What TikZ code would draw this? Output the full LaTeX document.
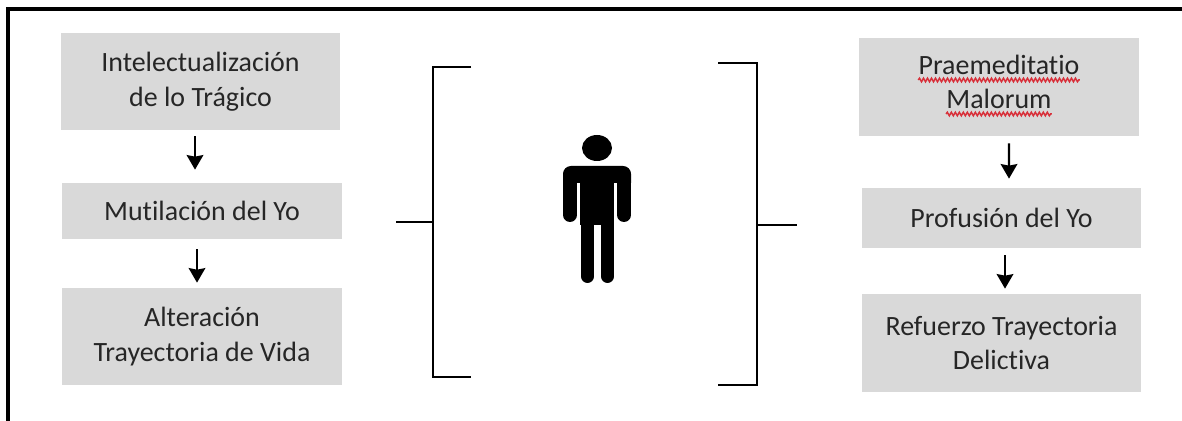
\documentclass[tikz,border=0pt]{standalone}
\usepackage{fontspec}
\setmainfont[Ligatures=NoCommon]{Carlito}
\usepackage{tikz}
\usetikzlibrary{arrows.meta,decorations.pathmorphing}

\tikzset{
  stagebox/.style={fill=boxgray,minimum width=5.6cm,inner sep=0pt,align=center,text=inkgray,
    font=\fontsize{15.9}{19.8}\selectfont},
  stagetext/.style={anchor=base,inner sep=0pt,text=inkgray,font=\fontsize{15.9}{19.8}\selectfont},
  flowarrow/.style={-{Stealth[length=2.9mm,width=3.3mm,inset=0.3mm]},line width=0.48mm},
  bracketline/.style={line width=0.46mm},
  spellmark/.style={draw=spellred,line width=0.3mm,decorate,
    decoration={snake,amplitude=0.35mm,segment length=0.8mm}},
}
\definecolor{boxgray}{HTML}{D9D9D9}
\definecolor{inkgray}{HTML}{262626}
\definecolor{spellred}{HTML}{D8323C}

\begin{document}
\begin{tikzpicture}[>=Stealth,x=0.02cm,y=-0.02cm]
  \useasboundingbox (0,0) rectangle (1182,421);
  % ---- outer frame ----
  \draw[line width=0.7mm] (8,421) -- (8,9) -- (1182,9);
  % ---- left column ----
  \node[stagebox,minimum height=1.94cm] (intel) at (200.5,81.5) {Intelectualización\\de lo Trágico};
  \node[stagebox,minimum height=1.12cm] (mutil) at (202,211) {Mutilación del Yo};
  \node[stagebox,minimum height=1.94cm] (alter) at (202,336.5) {Alteración\\Trayectoria de Vida};
  \draw[flowarrow] ([shift={(-5.5,6)}]intel.south) -- ([shift={(-7,-13)}]mutil.north);
  \draw[flowarrow] ([shift={(-5,10)}]mutil.south) -- ([shift={(-5,-5)}]alter.north);
  % ---- right column ----
  \node[stagebox,minimum height=1.96cm] (praebox) at (999,87) {};
  \node[stagetext] (praem) at (999,75) {Praemeditatio};
  \node[stagetext] (malor) at (999,109) {Malorum};
  \draw[spellmark] ([yshift=-0.1cm]praem.base west) -- ([yshift=-0.1cm]praem.base east);
  \draw[spellmark] ([yshift=-0.1cm]malor.base west) -- ([yshift=-0.1cm]malor.base east);
  \node[stagebox,minimum height=1.2cm] (profu) at (1001.5,218) {Profusión del Yo};
  \node[stagebox,minimum height=1.96cm] (refue) at (1001.5,343) {Refuerzo Trayectoria\\Delictiva};
  \draw[flowarrow] ([shift={(10,7)}]praebox.south) -- ([shift={(7.5,-9)}]profu.north);
  \draw[flowarrow] ([shift={(3.5,7)}]profu.south) -- ([shift={(3.5,-5)}]refue.north);
  % ---- brackets ----
  \draw[bracketline] (471,67) -- (433,67) -- (433,377) -- (471,377);
  \draw[bracketline] (396,222) -- (433,222);
  \draw[bracketline] (718,63) -- (757,63) -- (757,385) -- (718,385);
  \draw[bracketline] (757,225) -- (797,225);
  % ---- person ----
  \fill (597,148) ellipse (15 and 13);
  \fill (563,183) [rounded corners=0.16cm] -- (563,166) -- (631,166) [sharp corners] -- (631,183) -- cycle;
  \fill (580,175) rectangle (614,225);
  \draw[line width=0.28cm,line cap=round] (570,175) -- (570,215);
  \draw[line width=0.28cm,line cap=round] (624,175) -- (624,215);
  \draw[line width=0.26cm,line cap=round] (587.5,215) -- (587.5,276.5);
  \draw[line width=0.26cm,line cap=round] (607.5,215) -- (607.5,276.5);
\end{tikzpicture}
\end{document}
